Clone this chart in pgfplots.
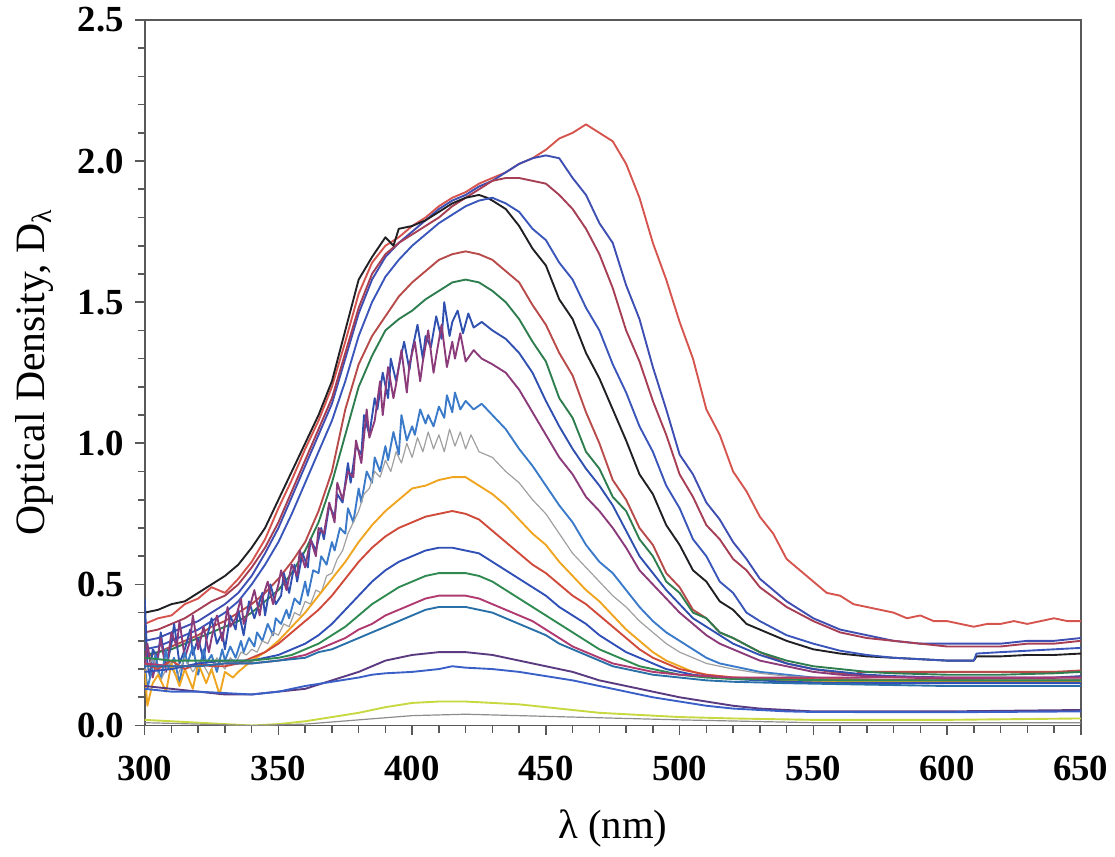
\documentclass[border=0pt]{standalone}
\usepackage{pgfplots}
\pgfplotsset{compat=1.18}
\usepackage{fontspec}
\setmainfont{Liberation Serif}
\definecolor{cA}{RGB}{214,84,78}
\definecolor{cB}{RGB}{62,78,178}
\definecolor{cC}{RGB}{166,62,84}
\definecolor{cD}{RGB}{32,32,36}
\definecolor{cE}{RGB}{58,86,186}
\definecolor{cF}{RGB}{184,74,74}
\definecolor{cG}{RGB}{46,125,79}
\definecolor{cH}{RGB}{48,80,176}
\definecolor{cI}{RGB}{139,58,122}
\definecolor{cJ}{RGB}{58,122,200}
\definecolor{cK}{RGB}{160,160,160}
\definecolor{cL}{RGB}{240,165,32}
\definecolor{cM}{RGB}{208,74,58}
\definecolor{cN}{RGB}{48,80,184}
\definecolor{cO}{RGB}{46,138,80}
\definecolor{cP}{RGB}{176,58,112}
\definecolor{cQ}{RGB}{42,112,168}
\definecolor{cR}{RGB}{90,58,128}
\definecolor{cS}{RGB}{58,96,200}
\definecolor{cT}{RGB}{200,216,64}
\definecolor{cU}{RGB}{140,140,140}
\begin{document}
\begin{tikzpicture}
\begin{axis}[
  scale only axis, width=469bp, height=353.5bp,
  xmin=300, xmax=650, ymin=0, ymax=2.5,
  xtick={300,350,...,650}, ytick={0,0.5,1,1.5,2,2.5},
  minor x tick num=4, minor y tick num=4,
  tick align=outside, tick pos=left,
  major tick length=5bp, minor tick length=3.5bp,
  axis line style={black!65, line width=0.9pt},
  every tick/.style={black!65, line width=0.8pt},
  /pgf/number format/assume math mode=true,
  ticklabel style={font=\fontsize{18.5}{21}\selectfont\bfseries},
  yticklabel style={/pgf/number format/fixed, /pgf/number format/fixed zerofill, /pgf/number format/precision=1},
  xticklabel style={/pgf/number format/fixed, /pgf/number format/precision=0},
  xticklabel shift=7bp, yticklabel shift=2bp,
  xlabel={λ (nm)},
  ylabel={Optical Density, D\raisebox{-0.35ex}{\fontsize{14}{14}\selectfont λ}},
  xlabel style={font=\fontsize{20.5}{24}\selectfont, at={(axis description cs:0.5,0)}, anchor=center, yshift=-51.5bp},
  ylabel style={font=\fontsize{21}{24}\selectfont, at={(axis description cs:0,0.5)}, anchor=center, yshift=55bp},
  every axis plot/.append style={line width=0.95pt, line join=round},
  clip=true,
]
% 1 red top
\addplot[cA] coordinates {(300,0.36)(305,0.38)(310,0.39)(315,0.43)(320,0.45)(325,0.49)(330,0.47)(335,0.52)(340,0.58)(345,0.66)(350,0.77)(355,0.87)(360,0.98)(365,1.08)(370,1.20)(375,1.36)(380,1.53)(385,1.64)(390,1.70)(395,1.73)(400,1.77)(405,1.80)(410,1.84)(415,1.87)(420,1.89)(425,1.92)(430,1.94)(435,1.96)(440,1.99)(445,2.01)(450,2.04)(455,2.08)(460,2.10)(465,2.13)(470,2.10)(475,2.07)(480,1.99)(485,1.87)(490,1.71)(495,1.58)(500,1.43)(505,1.30)(510,1.12)(515,1.03)(520,0.90)(525,0.83)(530,0.74)(535,0.68)(540,0.59)(545,0.55)(550,0.51)(555,0.47)(560,0.46)(565,0.43)(570,0.42)(575,0.41)(580,0.40)(585,0.38)(590,0.39)(595,0.37)(600,0.37)(605,0.36)(610,0.35)(615,0.36)(620,0.36)(625,0.37)(630,0.36)(635,0.37)(640,0.38)(645,0.37)(650,0.37)};
% 2 blue upper
\addplot[cB] coordinates {(300,0.30)(305,0.31)(310,0.33)(315,0.35)(320,0.37)(325,0.40)(330,0.43)(335,0.47)(340,0.53)(345,0.61)(350,0.70)(355,0.81)(360,0.92)(365,1.03)(370,1.14)(375,1.30)(380,1.46)(385,1.58)(390,1.66)(395,1.71)(400,1.75)(405,1.79)(410,1.83)(415,1.86)(420,1.88)(425,1.91)(430,1.93)(435,1.96)(440,1.99)(445,2.01)(450,2.02)(455,2.01)(460,1.94)(465,1.88)(470,1.78)(475,1.71)(480,1.56)(485,1.44)(490,1.27)(495,1.12)(500,0.96)(505,0.89)(510,0.79)(515,0.73)(520,0.65)(525,0.59)(530,0.52)(540,0.44)(550,0.38)(560,0.34)(570,0.32)(580,0.30)(590,0.29)(600,0.29)(610,0.29)(620,0.29)(630,0.30)(640,0.30)(650,0.31)};
% 3 dark rose
\addplot[cC] coordinates {(300,0.33)(305,0.34)(310,0.36)(315,0.38)(320,0.41)(325,0.44)(330,0.46)(335,0.50)(340,0.56)(345,0.63)(350,0.72)(355,0.83)(360,0.94)(365,1.05)(370,1.16)(375,1.32)(380,1.48)(385,1.60)(390,1.67)(395,1.71)(400,1.74)(405,1.77)(410,1.80)(415,1.84)(420,1.87)(425,1.90)(430,1.93)(435,1.94)(440,1.94)(445,1.93)(450,1.92)(455,1.88)(460,1.83)(465,1.76)(470,1.67)(475,1.55)(480,1.40)(485,1.29)(490,1.15)(495,1.03)(500,0.89)(505,0.81)(510,0.71)(515,0.66)(520,0.59)(525,0.55)(530,0.49)(540,0.42)(550,0.37)(560,0.33)(570,0.31)(580,0.30)(590,0.29)(600,0.28)(610,0.28)(620,0.28)(630,0.29)(640,0.29)(650,0.30)};
% 4 black
\addplot[cD] coordinates {(300,0.40)(305,0.41)(310,0.43)(315,0.44)(320,0.47)(325,0.50)(330,0.53)(335,0.57)(340,0.63)(345,0.70)(350,0.80)(355,0.90)(360,1.00)(365,1.10)(370,1.22)(375,1.40)(380,1.58)(385,1.66)(390,1.73)(393,1.70)(395,1.76)(400,1.77)(405,1.79)(410,1.82)(415,1.85)(420,1.87)(425,1.88)(428,1.87)(430,1.86)(435,1.83)(440,1.77)(445,1.69)(450,1.63)(455,1.51)(460,1.44)(465,1.32)(470,1.23)(475,1.12)(480,1.01)(485,0.89)(490,0.82)(495,0.71)(500,0.64)(505,0.55)(510,0.51)(515,0.44)(520,0.41)(525,0.36)(530,0.34)(540,0.30)(550,0.27)(560,0.255)(570,0.245)(580,0.24)(590,0.235)(600,0.23)(610,0.23)(611,0.245)(620,0.245)(630,0.25)(640,0.25)(650,0.255)};
% 5 blue lower
\addplot[cE] coordinates {(300,0.27)(305,0.28)(310,0.30)(315,0.32)(320,0.34)(325,0.37)(330,0.40)(335,0.44)(340,0.50)(345,0.57)(350,0.65)(355,0.75)(360,0.86)(365,0.97)(370,1.08)(375,1.22)(380,1.38)(385,1.50)(390,1.59)(395,1.65)(400,1.70)(405,1.74)(410,1.78)(415,1.81)(420,1.84)(425,1.86)(430,1.87)(435,1.85)(440,1.82)(445,1.76)(450,1.72)(455,1.64)(460,1.58)(465,1.48)(470,1.40)(475,1.28)(480,1.18)(485,1.06)(490,0.97)(495,0.85)(500,0.77)(505,0.66)(510,0.60)(515,0.51)(520,0.47)(525,0.40)(530,0.37)(540,0.32)(550,0.29)(560,0.265)(570,0.25)(580,0.24)(590,0.235)(600,0.23)(610,0.23)(611,0.255)(620,0.26)(630,0.265)(640,0.27)(650,0.275)};
% 6 red-brown
\addplot[cF] coordinates {(300,0.24)(305,0.26)(310,0.28)(315,0.30)(320,0.32)(325,0.35)(330,0.37)(335,0.40)(340,0.43)(345,0.47)(350,0.52)(355,0.58)(360,0.65)(365,0.76)(370,0.90)(375,1.12)(380,1.28)(385,1.38)(390,1.45)(395,1.52)(400,1.57)(405,1.61)(410,1.65)(415,1.67)(420,1.68)(425,1.67)(430,1.65)(435,1.61)(440,1.57)(445,1.49)(450,1.42)(455,1.32)(460,1.24)(465,1.11)(470,1.00)(475,0.87)(480,0.80)(485,0.70)(490,0.64)(495,0.54)(500,0.49)(505,0.41)(510,0.38)(515,0.33)(520,0.31)(530,0.26)(540,0.22)(550,0.20)(560,0.185)(566,0.178)(567,0.19)(580,0.19)(600,0.19)(620,0.19)(640,0.19)(650,0.195)};
% 7 green
\addplot[cG] coordinates {(300,0.25)(305,0.26)(310,0.27)(315,0.29)(320,0.31)(325,0.33)(330,0.35)(335,0.37)(340,0.40)(345,0.44)(350,0.48)(355,0.54)(360,0.62)(365,0.72)(370,0.86)(375,1.03)(380,1.20)(385,1.31)(390,1.40)(395,1.44)(400,1.47)(405,1.51)(410,1.54)(415,1.57)(420,1.58)(425,1.57)(430,1.54)(435,1.50)(440,1.44)(445,1.36)(450,1.29)(455,1.16)(460,1.09)(465,0.97)(470,0.91)(475,0.81)(480,0.76)(485,0.66)(490,0.60)(495,0.51)(500,0.47)(505,0.40)(510,0.38)(515,0.33)(520,0.31)(530,0.26)(540,0.23)(550,0.21)(560,0.20)(570,0.19)(580,0.185)(600,0.18)(620,0.18)(640,0.185)(650,0.19)};
% 8 blue noisy
\addplot[cH] coordinates {(300,0.45)(301,0.22)(302,0.17)(303,0.27)(305,0.24)(306,0.33)(308,0.20)(310,0.29)(311,0.36)(313,0.22)(315,0.27)(317,0.34)(318,0.25)(320,0.31)(322,0.23)(323,0.30)(325,0.38)(327,0.29)(329,0.33)(330,0.27)(332,0.39)(334,0.34)(335,0.41)(337,0.32)(339,0.44)(341,0.38)(342,0.41)(344,0.47)(345,0.39)(347,0.50)(349,0.43)(351,0.46)(352,0.54)(354,0.47)(356,0.57)(357,0.51)(359,0.61)(361,0.56)(362,0.66)(364,0.62)(366,0.70)(367,0.66)(369,0.78)(371,0.74)(372,0.82)(374,0.79)(376,0.93)(377,0.86)(379,0.99)(381,0.96)(382,1.10)(384,1.03)(386,1.16)(387,1.12)(389,1.25)(391,1.16)(392,1.30)(394,1.22)(395,1.27)(397,1.36)(399,1.26)(400,1.33)(402,1.42)(404,1.30)(405,1.38)(407,1.34)(409,1.45)(411,1.37)(412,1.50)(414,1.38)(415,1.43)(417,1.47)(419,1.39)(421,1.46)(423,1.41)(426,1.43)(430,1.40)(435,1.37)(440,1.32)(445,1.25)(450,1.15)(455,1.06)(460,0.98)(465,0.91)(470,0.85)(475,0.78)(480,0.69)(485,0.60)(490,0.54)(495,0.48)(500,0.43)(505,0.38)(510,0.35)(515,0.32)(520,0.29)(530,0.25)(540,0.22)(550,0.20)(560,0.19)(570,0.18)(580,0.175)(600,0.17)(620,0.17)(640,0.17)(650,0.175)};
% 9 purple noisy
\addplot[cI] coordinates {(300,0.20)(301,0.29)(303,0.17)(305,0.25)(306,0.31)(308,0.19)(310,0.33)(312,0.28)(313,0.37)(315,0.24)(317,0.30)(318,0.39)(320,0.27)(322,0.35)(324,0.26)(325,0.31)(327,0.39)(329,0.30)(331,0.42)(332,0.35)(334,0.38)(336,0.45)(337,0.36)(339,0.41)(341,0.48)(343,0.39)(344,0.45)(346,0.51)(348,0.43)(350,0.50)(351,0.55)(353,0.48)(355,0.57)(357,0.53)(358,0.62)(360,0.56)(362,0.66)(364,0.60)(365,0.70)(367,0.68)(369,0.79)(371,0.72)(372,0.86)(374,0.80)(376,0.90)(378,0.88)(379,1.01)(381,0.93)(383,1.12)(384,1.02)(386,1.08)(388,1.22)(389,1.10)(391,1.27)(393,1.16)(394,1.21)(396,1.33)(398,1.18)(399,1.28)(401,1.36)(403,1.22)(404,1.29)(406,1.40)(408,1.25)(409,1.31)(411,1.42)(413,1.27)(415,1.36)(416,1.30)(418,1.39)(420,1.29)(423,1.33)(426,1.30)(430,1.28)(435,1.25)(440,1.19)(445,1.11)(450,1.03)(455,0.95)(460,0.89)(465,0.81)(470,0.76)(475,0.70)(480,0.63)(485,0.55)(490,0.50)(495,0.45)(500,0.40)(505,0.36)(510,0.32)(515,0.29)(520,0.27)(530,0.23)(540,0.21)(550,0.19)(560,0.18)(570,0.175)(600,0.165)(650,0.17)};
% 10 steel blue
\addplot[cJ] coordinates {(300,0.22)(301,0.13)(303,0.21)(304,0.25)(306,0.16)(308,0.27)(309,0.20)(311,0.24)(313,0.15)(315,0.26)(316,0.22)(318,0.28)(320,0.18)(322,0.27)(323,0.22)(325,0.25)(327,0.19)(329,0.27)(330,0.23)(332,0.28)(334,0.24)(336,0.30)(337,0.26)(339,0.31)(341,0.28)(342,0.33)(344,0.30)(346,0.36)(348,0.32)(349,0.38)(351,0.36)(353,0.41)(354,0.38)(356,0.45)(358,0.43)(360,0.51)(361,0.46)(363,0.55)(365,0.54)(366,0.60)(368,0.57)(370,0.65)(371,0.62)(373,0.70)(375,0.68)(376,0.77)(378,0.72)(380,0.84)(381,0.79)(383,0.90)(385,0.86)(386,0.95)(388,0.90)(390,0.99)(391,0.94)(393,1.04)(395,0.96)(396,1.10)(398,1.01)(400,1.06)(401,1.03)(403,1.12)(405,1.07)(406,1.10)(408,1.06)(410,1.13)(412,1.09)(413,1.17)(415,1.11)(416,1.18)(418,1.12)(420,1.15)(423,1.12)(426,1.14)(430,1.10)(435,1.05)(440,0.98)(445,0.92)(450,0.85)(455,0.78)(460,0.72)(465,0.64)(470,0.58)(475,0.54)(480,0.48)(485,0.42)(490,0.37)(495,0.33)(500,0.30)(505,0.27)(510,0.24)(515,0.22)(520,0.21)(530,0.19)(540,0.18)(550,0.17)(560,0.165)(580,0.16)(600,0.155)(650,0.16)};
% 11 gray
\addplot[cK, line width=0.6pt] coordinates {(300,0.18)(303,0.24)(306,0.16)(309,0.22)(312,0.17)(315,0.24)(318,0.19)(321,0.23)(324,0.18)(327,0.24)(330,0.20)(332,0.24)(334,0.22)(336,0.26)(338,0.25)(340,0.27)(342,0.26)(344,0.30)(346,0.29)(348,0.33)(350,0.32)(352,0.36)(354,0.35)(356,0.40)(358,0.39)(360,0.44)(362,0.43)(364,0.48)(366,0.47)(368,0.53)(370,0.54)(372,0.59)(374,0.62)(376,0.68)(378,0.72)(380,0.76)(382,0.82)(384,0.84)(386,0.90)(388,0.88)(390,0.94)(392,0.90)(394,0.97)(396,0.93)(398,1.00)(400,0.95)(402,1.02)(404,0.97)(406,1.04)(408,0.98)(410,1.03)(412,0.97)(414,1.05)(416,0.99)(418,1.04)(420,0.98)(422,1.03)(425,0.97)(430,0.95)(435,0.90)(440,0.86)(445,0.80)(450,0.75)(455,0.68)(460,0.61)(465,0.56)(470,0.51)(475,0.46)(480,0.42)(485,0.37)(490,0.33)(495,0.29)(500,0.26)(505,0.24)(510,0.22)(515,0.21)(520,0.20)(530,0.185)(540,0.175)(550,0.17)(560,0.165)(580,0.16)(600,0.155)(650,0.155)};
% 12 orange
\addplot[cL] coordinates {(300,0.20)(301,0.07)(303,0.15)(305,0.18)(308,0.12)(310,0.22)(313,0.14)(315,0.20)(318,0.13)(320,0.22)(323,0.15)(325,0.20)(328,0.11)(330,0.19)(333,0.17)(335,0.19)(340,0.23)(345,0.26)(350,0.30)(355,0.35)(360,0.40)(365,0.46)(370,0.52)(375,0.58)(380,0.65)(385,0.71)(390,0.76)(395,0.80)(400,0.84)(405,0.85)(410,0.87)(415,0.88)(420,0.88)(425,0.85)(430,0.82)(435,0.78)(440,0.73)(445,0.68)(450,0.64)(455,0.58)(460,0.53)(465,0.48)(470,0.44)(475,0.39)(480,0.34)(485,0.30)(490,0.26)(495,0.23)(500,0.21)(505,0.19)(510,0.18)(515,0.175)(520,0.17)(530,0.165)(540,0.16)(560,0.155)(600,0.155)(650,0.155)};
% 13 red
\addplot[cM] coordinates {(300,0.22)(305,0.20)(310,0.23)(315,0.20)(320,0.22)(325,0.21)(330,0.21)(335,0.22)(340,0.24)(345,0.26)(350,0.29)(355,0.33)(360,0.37)(365,0.41)(370,0.46)(375,0.52)(380,0.58)(385,0.63)(390,0.67)(395,0.70)(400,0.72)(405,0.74)(410,0.75)(415,0.76)(420,0.75)(425,0.73)(430,0.69)(435,0.65)(440,0.61)(445,0.57)(450,0.54)(455,0.50)(460,0.46)(465,0.43)(470,0.39)(475,0.35)(480,0.31)(485,0.27)(490,0.24)(495,0.22)(500,0.20)(505,0.19)(510,0.18)(520,0.17)(540,0.165)(600,0.16)(650,0.16)};
% 14 blue
\addplot[cN] coordinates {(300,0.19)(310,0.20)(320,0.22)(330,0.23)(340,0.23)(345,0.24)(350,0.25)(355,0.27)(360,0.29)(365,0.32)(370,0.36)(375,0.41)(380,0.46)(385,0.51)(390,0.55)(395,0.58)(400,0.60)(405,0.62)(410,0.63)(415,0.63)(420,0.62)(425,0.61)(430,0.58)(435,0.55)(440,0.52)(445,0.49)(450,0.46)(455,0.42)(460,0.39)(465,0.36)(470,0.32)(475,0.29)(480,0.26)(485,0.24)(490,0.22)(495,0.20)(500,0.19)(505,0.18)(510,0.175)(520,0.165)(540,0.155)(560,0.15)(600,0.15)(650,0.15)};
% 15 green
\addplot[cO] coordinates {(300,0.24)(310,0.23)(320,0.23)(330,0.23)(340,0.23)(345,0.235)(350,0.24)(355,0.25)(360,0.27)(365,0.29)(370,0.32)(375,0.35)(380,0.39)(385,0.43)(390,0.46)(395,0.49)(400,0.51)(405,0.53)(410,0.54)(415,0.54)(420,0.54)(425,0.53)(430,0.51)(435,0.48)(440,0.45)(445,0.42)(450,0.39)(455,0.36)(460,0.33)(465,0.30)(470,0.27)(475,0.25)(480,0.23)(485,0.21)(490,0.20)(495,0.19)(500,0.18)(510,0.17)(520,0.165)(560,0.16)(650,0.16)};
% 16 magenta
\addplot[cP] coordinates {(300,0.22)(310,0.21)(320,0.21)(330,0.22)(340,0.22)(350,0.23)(360,0.25)(365,0.27)(370,0.29)(375,0.31)(380,0.34)(385,0.36)(390,0.39)(395,0.41)(400,0.43)(405,0.45)(410,0.46)(415,0.46)(420,0.46)(425,0.45)(430,0.43)(435,0.41)(440,0.39)(445,0.37)(450,0.34)(455,0.31)(460,0.28)(465,0.26)(470,0.24)(475,0.22)(480,0.21)(490,0.19)(500,0.18)(510,0.175)(520,0.17)(560,0.17)(650,0.17)};
% 17 teal
\addplot[cQ] coordinates {(300,0.21)(310,0.21)(320,0.21)(330,0.22)(340,0.22)(350,0.23)(360,0.24)(365,0.26)(370,0.27)(375,0.29)(380,0.31)(385,0.33)(390,0.35)(395,0.37)(400,0.39)(405,0.41)(410,0.42)(415,0.42)(420,0.42)(425,0.41)(430,0.40)(435,0.38)(440,0.36)(445,0.34)(450,0.32)(455,0.29)(460,0.27)(465,0.25)(470,0.23)(475,0.21)(480,0.20)(490,0.18)(500,0.17)(510,0.16)(520,0.155)(540,0.15)(600,0.14)(650,0.14)};
% 18 dark purple
\addplot[cR] coordinates {(300,0.14)(310,0.13)(320,0.12)(330,0.11)(340,0.11)(350,0.12)(360,0.13)(370,0.16)(380,0.19)(385,0.21)(390,0.23)(395,0.24)(400,0.25)(405,0.255)(410,0.26)(415,0.26)(420,0.26)(425,0.255)(430,0.25)(440,0.23)(450,0.21)(460,0.19)(470,0.16)(480,0.14)(490,0.12)(500,0.10)(510,0.085)(520,0.07)(530,0.06)(540,0.055)(550,0.05)(570,0.05)(600,0.05)(650,0.055)};
% 19 blue
\addplot[cS] coordinates {(300,0.13)(310,0.12)(320,0.12)(330,0.115)(340,0.11)(350,0.12)(360,0.14)(370,0.155)(380,0.17)(385,0.18)(390,0.185)(400,0.19)(410,0.20)(415,0.21)(420,0.205)(430,0.20)(440,0.19)(450,0.175)(460,0.16)(470,0.14)(480,0.12)(490,0.10)(500,0.085)(510,0.07)(520,0.06)(530,0.055)(540,0.05)(550,0.048)(600,0.047)(650,0.05)};
% 20 yellow-green
\addplot[cT] coordinates {(300,0.02)(310,0.015)(320,0.01)(330,0.005)(340,0.0)(350,0.005)(360,0.015)(370,0.03)(380,0.045)(390,0.065)(400,0.08)(410,0.085)(420,0.085)(430,0.08)(440,0.075)(450,0.065)(460,0.055)(470,0.045)(480,0.04)(490,0.035)(500,0.03)(520,0.025)(550,0.02)(600,0.02)(650,0.025)};
% 21 gray
\addplot[cU, line width=0.6pt] coordinates {(300,0.01)(320,0.005)(340,0.0)(360,0.005)(380,0.02)(400,0.035)(420,0.04)(440,0.035)(460,0.03)(480,0.025)(500,0.02)(550,0.01)(600,0.01)(650,0.01)};
\end{axis}
\path (-72.5bp,-65.5bp) rectangle ++(557.5bp,429bp);
\end{tikzpicture}
\end{document}
